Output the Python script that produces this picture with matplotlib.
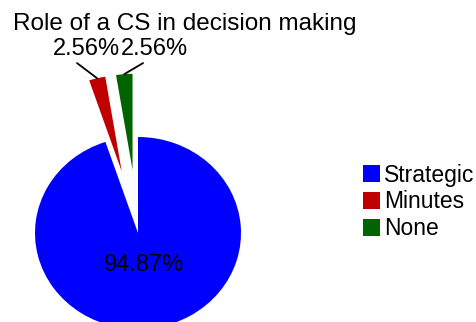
import numpy as np
import matplotlib
matplotlib.use("Agg")
import matplotlib.pyplot as plt

plt.rcParams['font.family'] = ['Liberation Sans', 'DejaVu Sans']

# Role of a CS in decision making
categories = ['Strategic', 'Minutes', 'None']
shares = [94.87, 2.56, 2.56]
colors = ['#0000FF', '#C00000', '#006400']
explode = [0.0, 0.66, 0.66]

W, H = 477, 322
fig = plt.figure(figsize=(W / 100, H / 100), dpi=100)

# pie centre and radii in pixels (the pie is drawn slightly squashed)
cx, cy = 138, 233
rx, ry = 103, 96
xlim = (-1.3, 1.3)
ylim = (-1.2, 2.3)
left = (cx + xlim[0] * rx) / W
bottom = ((H - cy) + ylim[0] * ry) / H
ax = fig.add_axes([left, bottom, (xlim[1] - xlim[0]) * rx / W,
                   (ylim[1] - ylim[0]) * ry / H])

wedges, _ = ax.pie(shares, colors=colors, explode=explode, startangle=90,
                   counterclock=False, radius=1.0,
                   wedgeprops=dict(linewidth=0))
ax.set_aspect('auto')
ax.set_xlim(*xlim)
ax.set_ylim(*ylim)
ax.axis('off')

fs = 17

# big slice label inside the wedge
w = wedges[0]
mid = np.deg2rad((w.theta1 + w.theta2) / 2)
ax.text(w.center[0] + 0.34 * np.cos(mid), w.center[1] + 0.34 * np.sin(mid),
        f'{shares[0]:.2f}%', ha='center', va='center', fontsize=fs)

# small slices: labels above with leader lines to the outer arc
label_pos = [None, (-0.505, 1.92), (0.155, 1.92)]
line_start = [None, (-0.592, 1.77), (0.049, 1.77)]
for i in (1, 2):
    w = wedges[i]
    mid = np.deg2rad((w.theta1 + w.theta2) / 2)
    tip = (w.center[0] + w.r * np.cos(mid), w.center[1] + w.r * np.sin(mid))
    ax.annotate('', xy=tip, xytext=line_start[i],
                arrowprops=dict(arrowstyle='-', color='black', lw=1.3,
                                shrinkA=0, shrinkB=0))
    ax.text(*label_pos[i], f'{shares[i]:.2f}%', ha='center', va='center',
            fontsize=fs)

fig.text(185 / W, 1 - 24 / H, 'Role of a CS in decision making',
         ha='center', va='center', fontsize=17.5)

fig.legend(wedges, categories, loc='center left',
           bbox_to_anchor=(354 / W, 1 - 202 / H), frameon=False,
           fontsize=16.5, handlelength=0.75, handleheight=0.75,
           handletextpad=0.15, labelspacing=0.17, borderaxespad=0)

fig.savefig('out.png', dpi=100)
